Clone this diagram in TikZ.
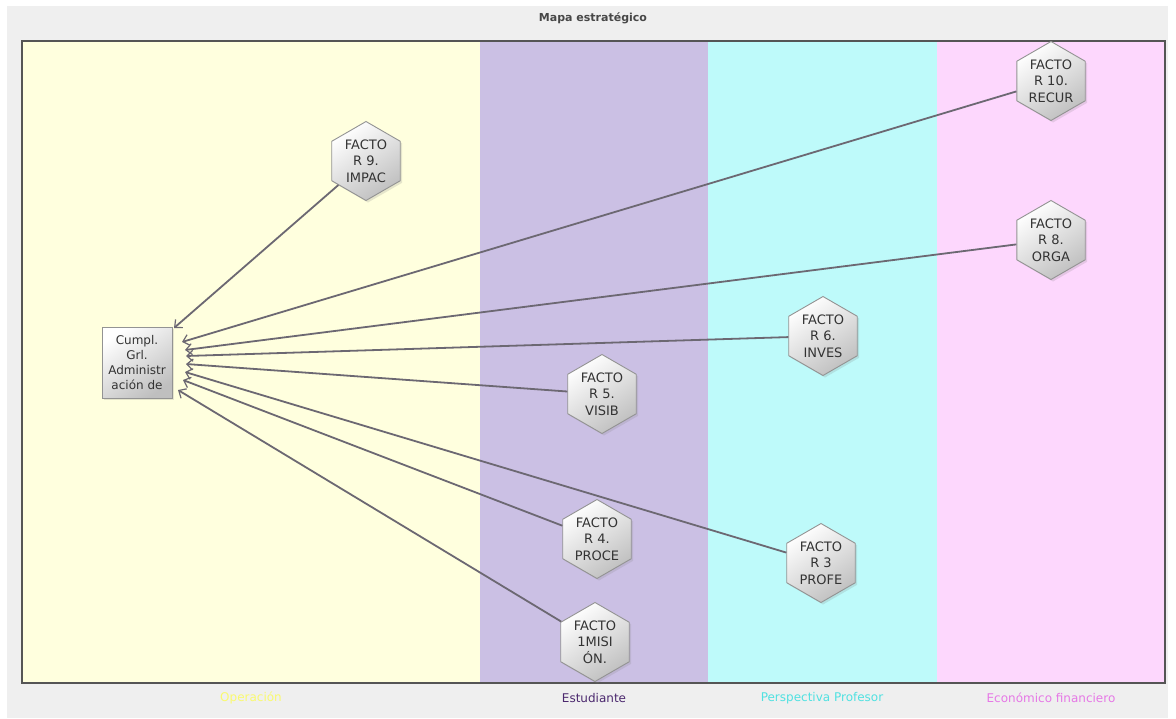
\documentclass[tikz,border=0pt]{standalone}
\usepackage{fontspec}
\setmainfont{DejaVu Sans}
\usetikzlibrary{shapes.geometric,arrows.meta,shadows}
\definecolor{panelgray}{RGB}{239,239,239}
\definecolor{bandyellow}{RGB}{255,255,222}
\definecolor{bandpurple}{RGB}{203,192,228}
\definecolor{bandcyan}{RGB}{190,250,250}
\definecolor{bandpink}{RGB}{253,215,253}
\definecolor{framecol}{RGB}{85,85,85}
\definecolor{linkcol}{RGB}{108,104,114}
\definecolor{txtcol}{RGB}{51,51,51}
\definecolor{labyellow}{RGB}{250,250,110}
\definecolor{labpurple}{RGB}{75,40,110}
\definecolor{labcyan}{RGB}{80,225,225}
\definecolor{labpink}{RGB}{230,120,230}
\begin{document}
\begin{tikzpicture}[x=1pt,y=-1pt,
  hexnode/.style={regular polygon, regular polygon sides=6, shape border rotate=30,
    minimum size=79pt, inner sep=0pt, draw=gray!85, line width=0.9pt,
    top color=white, bottom color=gray!50, shading angle=35,
    drop shadow={opacity=0.2, shadow xshift=2pt, shadow yshift=-2pt},
    align=center, text=txtcol, font=\fontsize{13}{16.5}\selectfont},
  boxnode/.style={rectangle, draw=gray!85, line width=0.9pt,
    minimum width=70pt, minimum height=71pt, inner sep=0pt,
    top color=white, bottom color=gray!50, shading angle=35,
    drop shadow={opacity=0.2, shadow xshift=2pt, shadow yshift=-2pt},
    align=center, text=txtcol, font=\fontsize{12}{15}\selectfont},
  link/.style={draw=linkcol, line width=1.8pt, -{Straight Barb[length=6pt,width=11pt,line width=1.2pt]}},
  bandlabel/.style={font=\fontsize{12}{14}\selectfont},
]
\useasboundingbox (0,0) rectangle (1176,718);
\fill[white] (0,0) rectangle (1176,718);
\fill[panelgray] (7,6) rectangle (1168,718);
\node[font=\bfseries\fontsize{11}{13}\selectfont, text=txtcol!90] (title) at (593,18) {Mapa estratégico};
% bands
\fill[bandyellow] (22,41) rectangle (480,683);
\fill[bandpurple] (480,41) rectangle (708,683);
\fill[bandcyan] (708,41) rectangle (937,683);
\fill[bandpink] (937,41) rectangle (1165,683);
\draw[framecol, line width=2pt] (22,41) rectangle (1165,683);
% band labels
\node[bandlabel, text=labyellow] (l1) at (251,698) {Operación};
\node[bandlabel, text=labpurple] (l2) at (594,698) {Estudiante};
\node[bandlabel, text=labcyan] (l3) at (822,698) {Perspectiva Profesor};
\node[bandlabel, text=labpink] (l4) at (1051,698) {Económico financiero};
% nodes
\node[boxnode] (adm) at (137,362.5) {Cumpl.\\Grl.\\Administr\\ación de};
\node[hexnode] (r9) at (366,161) {FACTO\\R 9.\\IMPAC};
\node[hexnode] (r10) at (1051,81) {FACTO\\R 10.\\RECUR};
\node[hexnode] (r8) at (1051,240) {FACTO\\R 8.\\ORGA};
\node[hexnode] (r6) at (823,336) {FACTO\\R 6.\\INVES};
\node[hexnode] (r5) at (602,394) {FACTO\\R 5.\\VISIB};
\node[hexnode] (r4) at (597,539) {FACTO\\R 4.\\PROCE};
\node[hexnode] (r3) at (821,563) {FACTO\\R 3\\PROFE};
\node[hexnode] (r1) at (595,642) {FACTO\\1MISI\\ÓN.};
% tips
\coordinate (t9) at (174,328);
\coordinate (t10) at (182,342);
\coordinate (t8) at (185,350);
\coordinate (t6) at (186,356);
\coordinate (t5) at (186,364);
\coordinate (t3) at (185,372);
\coordinate (t4) at (183,380);
\coordinate (t1) at (178,390);
\draw[link] (r9) -- (t9);
\draw[link] (r10) -- (t10);
\draw[link] (r8) -- (t8);
\draw[link] (r6) -- (t6);
\draw[link] (r5) -- (t5);
\draw[link] (r3) -- (t3);
\draw[link] (r4) -- (t4);
\draw[link] (r1) -- (t1);
\end{tikzpicture}
\end{document}
